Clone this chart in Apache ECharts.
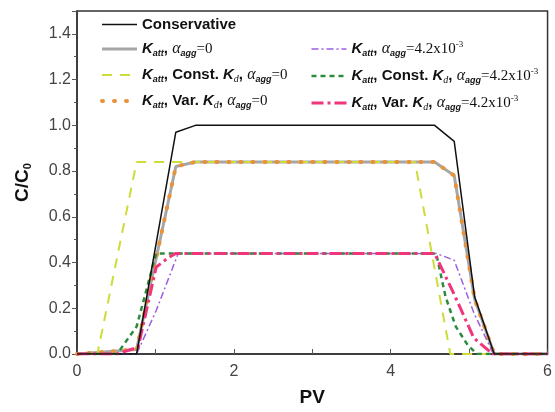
<!DOCTYPE html>
<html>
<head>
<meta charset="utf-8">
<script src="https://cdn.jsdelivr.net/npm/echarts@6/dist/echarts.min.js"></script>
<style>
html,body{margin:0;padding:0;background:#fff;}
#chart{width:555px;height:412px;}
</style>
</head>
<body>
<div id="chart"></div>
<script>
// ---- data ----
const xTicks = [0, 2, 4, 6];
const yTicks = [0.0, 0.2, 0.4, 0.6, 0.8, 1.0, 1.2, 1.4];

const pvConservative = [0, 0.76, 1.26, 1.51, 4.56, 4.81, 5.07, 5.32, 6];
const cConservative  = [0, 0,    0.97, 1.00, 1.00, 0.93, 0.25, 0,    0];

const pvKatt0 = [0, 0.76, 1.26, 1.51, 4.56, 4.81, 5.07, 5.32, 6];
const cKatt0  = [0, 0.02, 0.82, 0.84, 0.84, 0.78, 0.24, 0,    0];

const pvConst0 = [0, 0.26, 0.76, 4.31, 4.76, 6];
const cConst0  = [0, 0,    0.84, 0.84, 0,    0];

const pvVar0 = [0, 0.76, 1.26, 1.51, 4.56, 4.81, 5.07, 5.32, 6];
const cVar0  = [0, 0.02, 0.82, 0.84, 0.84, 0.78, 0.24, 0,    0];

const pvKattA = [0, 0.76, 1.01, 1.29, 4.58, 4.81, 5.06, 5.31, 6];
const cKattA  = [0, 0,    0.19, 0.44, 0.44, 0.41, 0.18, 0,    0];

const pvConstA = [0, 0.51, 0.76, 1.01, 4.58, 4.70, 4.83, 4.98, 5.10, 6];
const cConstA  = [0, 0,    0.12, 0.44, 0.44, 0.25, 0.12, 0.04, 0,    0];

const pvVarA = [0, 0.51, 0.78, 1.01, 1.16, 1.26, 4.56, 4.81, 5.06, 5.30, 6];
const cVarA  = [0, 0,    0.03, 0.38, 0.42, 0.44, 0.44, 0.26, 0.07, 0,    0];

const names = {
  cons: 'Conservative',
  k0: 'Katt, aagg=0',
  c0: 'Katt, Const. Kd, aagg=0',
  v0: 'Katt, Var. Kd, aagg=0',
  kA: 'Katt, aagg=4.2x10-3',
  cA: 'Katt, Const. Kd, aagg=4.2x10-3',
  vA: 'Katt, Var. Kd, aagg=4.2x10-3'
};

function zip(xs, ys) { return xs.map((x, i) => [x, ys[i]]); }

const K = '{k|K}{s|att}{t|, }';
const A = '{a|α}{s|agg}';
const Kd = '{k|K}{sd|d}{t|, }';
const EXP = '{n|=4.2x10}{sup|-3}';
const labelMap = {};
labelMap[names.cons] = '{t|Conservative}';
labelMap[names.k0] = K + A + '{n|=0}';
labelMap[names.c0] = K + '{t|Const. }' + Kd + A + '{n|=0}';
labelMap[names.v0] = K + '{t|Var. }' + Kd + A + '{n|=0}';
labelMap[names.kA] = K + A + EXP;
labelMap[names.cA] = K + '{t|Const. }' + Kd + A + EXP;
labelMap[names.vA] = K + '{t|Var. }' + Kd + A + EXP;

const rich = {
  t: {fontFamily: 'Liberation Sans', fontWeight: 'bold', fontSize: 15, color: '#111'},
  k: {fontFamily: 'Liberation Sans', fontWeight: 'bold', fontStyle: 'italic', fontSize: 15, color: '#111'},
  s: {fontFamily: 'Liberation Sans', fontWeight: 'bold', fontStyle: 'italic', fontSize: 9, color: '#111', padding: [9, 0, 0, 0]},
  sd: {fontFamily: 'Liberation Serif', fontStyle: 'italic', fontSize: 10, color: '#111', padding: [8, 0, 0, 0]},
  a: {fontFamily: 'Liberation Serif', fontStyle: 'italic', fontSize: 16, color: '#111'},
  n: {fontFamily: 'Liberation Serif', fontSize: 15, color: '#111'},
  sup: {fontFamily: 'Liberation Serif', fontSize: 9, color: '#111', padding: [0, 0, 9, 0]}
};

const legendCommon = {
  orient: 'vertical',
  itemWidth: 35,
  itemHeight: 10,
  itemGap: 9,
  padding: 0,
  itemStyle: {color: 'rgba(0,0,0,0)', borderColor: 'rgba(0,0,0,0)', borderWidth: 0},
  formatter: n => labelMap[n],
  textStyle: {rich: rich, fontSize: 15, color: '#111'}
};

function item(name, w) { return {name: name, lineStyle: {width: w}}; }

function line(name, xs, ys, color, width, type, z, cap) {
  return {
    name: name, type: 'line', data: zip(xs, ys), symbol: 'none', z: z,
    lineStyle: {color: color, width: width, type: type, cap: cap || 'butt'},
    itemStyle: {color: color}
  };
}

const chart = echarts.init(document.getElementById('chart'));
chart.setOption({
  backgroundColor: '#fff',
  animation: false,
  grid: {left: 77, top: 11, width: 474, height: 343.5, show: true, borderColor: '#333', borderWidth: 1.5},
  legend: [
    Object.assign({}, legendCommon, {left: 100, top: 17, data: [
      item(names.cons, 1.5), item(names.k0, 3), item(names.c0, 2), item(names.v0, 4)]}),
    Object.assign({}, legendCommon, {left: 310, top: 40, data: [
      item(names.kA, 1.5), item(names.cA, 2.5), item(names.vA, 3)]})
  ],
  xAxis: {
    type: 'value', min: 0, max: 6, interval: 2,
    name: 'PV', nameLocation: 'middle', nameGap: 34,
    nameTextStyle: {fontFamily: 'Liberation Sans', fontWeight: 'bold', fontSize: 19, color: '#111'},
    axisLine: {show: true, lineStyle: {color: '#333', width: 1.5}},
    axisTick: {show: true, inside: true, length: 5, lineStyle: {color: '#555'}},
    minorTick: {show: true, splitNumber: 2, length: 5, lineStyle: {color: '#555'}},
    splitLine: {show: false},
    axisLabel: {fontFamily: 'Liberation Sans', fontSize: 16, color: '#444', margin: 10,
      formatter: v => xTicks.indexOf(v) >= 0 ? String(v) : ''}
  },
  yAxis: {
    type: 'value', min: 0, max: 1.5, interval: 0.2,
    name: '{a|C/C}{s|0}', nameLocation: 'middle', nameGap: 44, nameRotate: 90,
    nameTextStyle: {rich: {
      a: {fontFamily: 'Liberation Sans', fontWeight: 'bold', fontSize: 19, color: '#111'},
      s: {fontFamily: 'Liberation Sans', fontWeight: 'bold', fontSize: 11, color: '#111', padding: [10, 0, 0, 0]}
    }},
    axisLine: {show: true, lineStyle: {color: '#333', width: 1.5}},
    axisTick: {show: true, length: 5, lineStyle: {color: '#555'}},
    minorTick: {show: true, splitNumber: 2, length: 3, lineStyle: {color: '#555'}},
    splitLine: {show: false},
    axisLabel: {fontFamily: 'Liberation Sans', fontSize: 16, color: '#444', margin: 6, showMaxLabel: false,
      formatter: v => yTicks.some(t => Math.abs(t - v) < 1e-6) ? v.toFixed(1) : ''}
  },
  series: [
    line(names.cons, pvConservative, cConservative, '#111111', 1.5, 'solid', 10),
    line(names.k0, pvKatt0, cKatt0, '#a6a6a6', 3, 'solid', 2),
    line(names.c0, pvConst0, cConst0, '#cddc39', 2, [10, 8], 3),
    line(names.v0, pvVar0, cVar0, '#e8923a', 4, [1, 11], 4, 'round'),
    line(names.kA, pvKattA, cKattA, '#9b5fe0', 1.5, [7, 3, 2, 3], 5),
    line(names.cA, pvConstA, cConstA, '#2e8b3e', 2.5, [5, 4], 6),
    line(names.vA, pvVarA, cVarA, '#f0357a', 3, [12, 4, 3, 4], 7)
  ]
});
</script>
</body>
</html>
